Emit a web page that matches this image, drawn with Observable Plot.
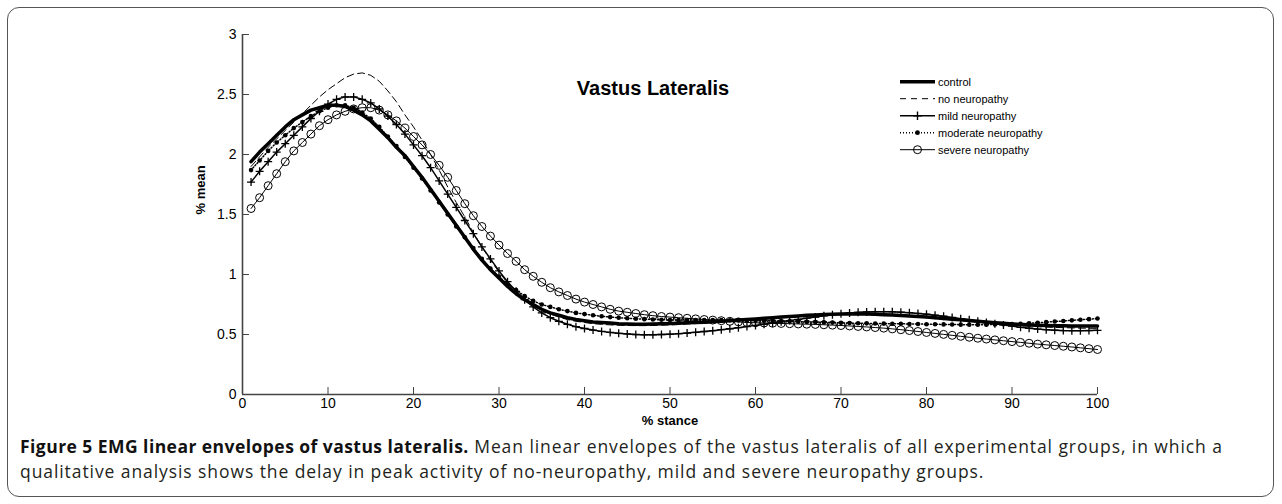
<!DOCTYPE html>
<html>
<head>
<meta charset="utf-8">
<script src="https://cdn.jsdelivr.net/npm/d3@7"></script>
<script src="https://cdn.jsdelivr.net/npm/@observablehq/plot@0.6"></script>
<style>
  html, body { margin: 0; padding: 0; background: #fff; }
  body { width: 1282px; height: 504px; position: relative; overflow: hidden; }
  #frame { position: absolute; left: 7px; top: 7px; width: 1265px; height: 488px; border: 1.5px solid #555; border-radius: 12px; }
  #chart { position: absolute; left: 0; top: 0; }
  #legend { position: absolute; left: 895px; top: 70px; }
  #caption { position: absolute; left: 20px; top: 434px; width: 1250px; font-family: "Open Sans", sans-serif; font-size: 17.5px; letter-spacing: 0.92px; line-height: 25px; color: #231f20; white-space: nowrap; }
  #caption b { font-weight: 700; color: #111; letter-spacing: 0.45px; }
</style>
</head>
<body>
<div id="frame"></div>
<div id="chart"></div>
<div id="legend"></div>
<div id="caption"><b>Figure 5 EMG linear envelopes of vastus lateralis.</b> Mean linear envelopes of the vastus lateralis of all experimental groups, in which a<br>qualitative analysis shows the delay in peak activity of no-neuropathy, mild and severe neuropathy groups.</div>
<script>
// ---- data (% stance samples 1..100) ----
const stance = d3.range(1, 101);

const control = [
  1.94,2.02,2.09,2.16,2.23,2.29,2.33,2.37,2.39,2.41,
  2.41,2.40,2.37,2.33,2.28,2.21,2.14,2.06,1.99,1.90,
  1.81,1.71,1.61,1.51,1.41,1.31,1.21,1.12,1.04,0.97,
  0.90,0.84,0.79,0.75,0.71,0.68,0.66,0.64,0.625,0.615,
  0.605,0.60,0.595,0.59,0.588,0.586,0.586,0.587,0.589,0.591,
  0.594,0.597,0.60,0.603,0.607,0.611,0.615,0.62,0.625,0.63,
  0.635,0.64,0.645,0.65,0.655,0.66,0.663,0.666,0.668,0.67,
  0.67,0.67,0.67,0.668,0.665,0.662,0.658,0.654,0.65,0.645,
  0.64,0.634,0.628,0.622,0.616,0.61,0.604,0.598,0.593,0.588,
  0.584,0.58,0.577,0.575,0.573,0.572,0.571,0.57,0.57,0.57
];

const noNeuropathy = [
  1.90,1.98,2.06,2.13,2.20,2.27,2.34,2.41,2.48,2.54,
  2.59,2.64,2.67,2.68,2.66,2.61,2.53,2.44,2.33,2.23,
  2.12,2.00,1.87,1.73,1.60,1.48,1.35,1.23,1.12,1.02,
  0.93,0.86,0.80,0.745,0.70,0.67,0.645,0.625,0.61,0.60,
  0.59,0.585,0.58,0.577,0.575,0.574,0.574,0.575,0.577,0.58,
  0.583,0.587,0.591,0.595,0.60,0.605,0.61,0.615,0.62,0.625,
  0.63,0.635,0.64,0.645,0.65,0.654,0.658,0.661,0.664,0.666,
  0.667,0.668,0.668,0.667,0.665,0.662,0.658,0.653,0.648,0.642,
  0.636,0.63,0.623,0.616,0.609,0.602,0.595,0.589,0.583,0.578,
  0.573,0.569,0.565,0.562,0.559,0.557,0.555,0.553,0.552,0.551
];

const mild = [
  1.77,1.86,1.94,2.02,2.09,2.16,2.23,2.30,2.36,2.42,
  2.46,2.48,2.48,2.46,2.43,2.38,2.32,2.25,2.17,2.08,
  1.99,1.89,1.78,1.67,1.56,1.45,1.34,1.23,1.13,1.03,
  0.94,0.86,0.79,0.73,0.68,0.64,0.61,0.585,0.565,0.55,
  0.537,0.526,0.517,0.51,0.505,0.50,0.498,0.498,0.50,0.503,
  0.507,0.512,0.518,0.525,0.532,0.54,0.548,0.557,0.566,0.576,
  0.586,0.596,0.606,0.616,0.626,0.636,0.646,0.656,0.665,0.673,
  0.68,0.685,0.688,0.69,0.69,0.689,0.686,0.682,0.676,0.669,
  0.661,0.652,0.642,0.632,0.622,0.611,0.60,0.59,0.58,0.57,
  0.56,0.552,0.545,0.54,0.536,0.533,0.532,0.532,0.533,0.535
];

const moderate = [
  1.87,1.95,2.03,2.10,2.16,2.22,2.27,2.32,2.36,2.39,
  2.41,2.41,2.39,2.35,2.30,2.23,2.15,2.07,1.98,1.89,
  1.80,1.70,1.60,1.50,1.40,1.31,1.22,1.13,1.05,0.98,
  0.92,0.87,0.82,0.78,0.75,0.73,0.71,0.695,0.68,0.67,
  0.66,0.652,0.645,0.64,0.635,0.631,0.628,0.625,0.623,0.621,
  0.62,0.62,0.62,0.62,0.62,0.62,0.619,0.618,0.617,0.616,
  0.615,0.613,0.611,0.609,0.607,0.605,0.603,0.601,0.599,0.597,
  0.595,0.594,0.593,0.592,0.591,0.59,0.589,0.588,0.587,0.586,
  0.585,0.584,0.583,0.582,0.582,0.582,0.582,0.583,0.585,0.587,
  0.59,0.594,0.598,0.603,0.608,0.613,0.618,0.623,0.628,0.633
];

const severe = [
  1.55,1.64,1.74,1.84,1.94,2.03,2.10,2.17,2.24,2.29,
  2.33,2.36,2.38,2.39,2.39,2.37,2.33,2.28,2.22,2.15,
  2.08,2.00,1.91,1.81,1.70,1.59,1.49,1.40,1.32,1.245,
  1.175,1.11,1.04,0.985,0.935,0.89,0.855,0.825,0.795,0.77,
  0.75,0.73,0.71,0.695,0.685,0.675,0.665,0.657,0.65,0.645,
  0.64,0.635,0.63,0.625,0.62,0.615,0.61,0.605,0.60,0.598,
  0.596,0.594,0.592,0.59,0.588,0.586,0.584,0.581,0.578,0.575,
  0.571,0.567,0.563,0.558,0.553,0.547,0.54,0.533,0.525,0.517,
  0.509,0.501,0.493,0.485,0.477,0.469,0.462,0.455,0.448,0.441,
  0.434,0.427,0.42,0.414,0.408,0.402,0.396,0.389,0.382,0.375
];

const seriesNames = ["control", "no neuropathy", "mild neuropathy", "moderate neuropathy", "severe neuropathy"];
const xTicks = [0, 10, 20, 30, 40, 50, 60, 70, 80, 90, 100];
const yTicks = [0, 0.5, 1, 1.5, 2, 2.5, 3];
const chartTitle = "Vastus Lateralis";
const xLabel = "% stance";
const yLabel = "% mean";

const rows = (vals) => stance.map((x, i) => ({x, y: vals[i]}));

const black = "#000";
const chart = Plot.plot({
  width: 1282,
  height: 425,
  marginLeft: 242,
  marginRight: 185,
  marginTop: 34,
  marginBottom: 31,
  x: {domain: [0, 100]},
  y: {domain: [0, 3]},
  style: {fontFamily: "'Liberation Sans', Arial, sans-serif", fontSize: "14px", color: "#000", background: "transparent", overflow: "visible"},
  marks: [
    Plot.ruleY([0], {stroke: "#444", strokeWidth: 1.6}),
    Plot.ruleX([0], {stroke: "#444", strokeWidth: 1.6}),
    Plot.axisX(xTicks, {tickSize: -7, text: null, label: null, stroke: "#444"}),
    Plot.axisX(xTicks, {tickSize: 0, tickPadding: 4, label: null, fontSize: 14, tickFormat: d => String(d)}),
    Plot.axisY(yTicks, {tickSize: -7, text: null, label: null, stroke: "#444"}),
    Plot.axisY(yTicks, {tickSize: 0, tickPadding: 6, label: null, fontSize: 14, tickFormat: d => String(d)}),
    Plot.text([xLabel], {frameAnchor: "bottom", dy: 30, fontWeight: "bold", fontSize: 13, text: d => d}),
    Plot.text([yLabel], {frameAnchor: "left", dx: -42, rotate: -90, fontWeight: "bold", fontSize: 13, text: d => d}),
    Plot.text([chartTitle], {frameAnchor: "top", dx: -17, dy: 46, fontWeight: "bold", fontSize: 20, text: d => d}),
    // no neuropathy (dashed)
    Plot.line(rows(noNeuropathy), {x: "x", y: "y", stroke: black, strokeWidth: 1, strokeDasharray: "7,4"}),
    // severe (open circles)
    Plot.line(rows(severe), {x: "x", y: "y", stroke: black, strokeWidth: 1}),
    Plot.dot(rows(severe), {x: "x", y: "y", r: 4, stroke: black, fill: "none", strokeWidth: 1}),
    // moderate (dotted + filled dots)
    Plot.line(rows(moderate), {x: "x", y: "y", stroke: black, strokeWidth: 1.5, strokeDasharray: "1,2"}),
    Plot.dot(rows(moderate), {x: "x", y: "y", r: 2.3, fill: black, stroke: "none"}),
    // mild (plus markers)
    Plot.line(rows(mild), {x: "x", y: "y", stroke: black, strokeWidth: 1.5}),
    Plot.dot(rows(mild), {x: "x", y: "y", symbol: "plus", r: 2.7, stroke: black, strokeWidth: 1.3}),
    // control (thick)
    Plot.line(rows(control), {x: "x", y: "y", stroke: black, strokeWidth: 3.5})
  ]
});
document.getElementById("chart").appendChild(chart);

// ---- legend ----
const legendStyles = [
  {w: 3.5, dash: null, marker: null},
  {w: 1, dash: "6,5", marker: null},
  {w: 1.5, dash: null, marker: "plus"},
  {w: 1.5, dash: "1,2", marker: "dot"},
  {w: 1, dash: null, marker: "circle"}
];
const lg = d3.create("svg").attr("width", 170).attr("height", 95)
  .style("font-family", "'Liberation Sans', Arial, sans-serif").style("font-size", "11px");
seriesNames.forEach((name, i) => {
  const s = legendStyles[i];
  const g = lg.append("g").attr("transform", `translate(5,${11.7 + i * 17})`);
  g.append("line").attr("x1", 0).attr("x2", 35).attr("stroke", "#000").attr("stroke-width", s.w)
    .attr("stroke-dasharray", s.dash);
  if (s.marker === "plus") g.append("path").attr("d", "M17.5,-4.3V4.3M13.2,0H21.8").attr("stroke", "#000").attr("stroke-width", 1.4);
  if (s.marker === "dot") g.append("circle").attr("cx", 17.5).attr("r", 2.4).attr("fill", "#000");
  if (s.marker === "circle") g.append("circle").attr("cx", 17.5).attr("r", 4).attr("fill", "none").attr("stroke", "#000");
  g.append("text").attr("x", 38).attr("dy", "0.35em").text(name);
});
document.getElementById("legend").appendChild(lg.node());
</script>
</body>
</html>
